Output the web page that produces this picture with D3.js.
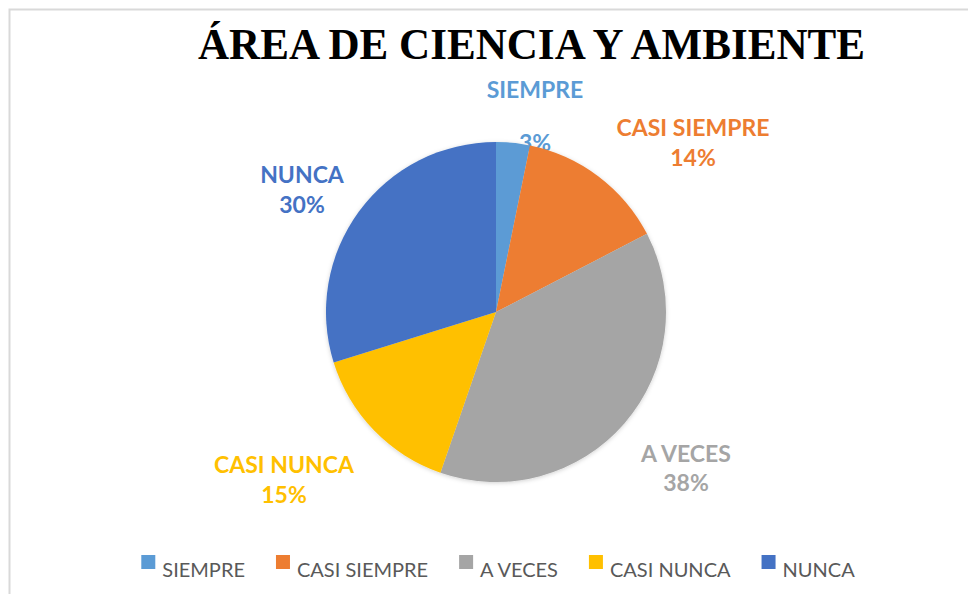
<!DOCTYPE html>
<html>
<head>
<meta charset="utf-8">
<script src="https://cdn.jsdelivr.net/npm/d3@7"></script>
<style>
  body { margin: 0; background: #fff; }
  svg { display: block; }
</style>
</head>
<body>
<div id="chart"></div>
<script>
// data (share of answers, %)
var categories = ["SIEMPRE", "CASI SIEMPRE", "A VECES", "CASI NUNCA", "NUNCA"];
var values = [3.2, 14.2, 37.9, 14.9, 29.8];
var colors = ["#5B9BD5", "#ED7D31", "#A5A5A5", "#FFC000", "#4472C4"];
var title = "ÁREA DE CIENCIA Y AMBIENTE";

var width = 968, height = 594;
var cx = 496, cy = 312, radius = 170;

// where each data label sits (centre x, baseline of the first line, gap to the % line)
var labelPos = [[535, 98, 53], [693, 136, 30], [686, 462, 29], [284, 473, 30], [302, 183, 30]];

var svg = d3.select("#chart").append("svg")
  .attr("width", width)
  .attr("height", height);

var defs = svg.append("defs");
var f = defs.append("filter").attr("id", "shadow")
  .attr("x", "-10%").attr("y", "-10%").attr("width", "120%").attr("height", "120%");
f.append("feDropShadow").attr("dx", 0).attr("dy", 1).attr("stdDeviation", 2)
  .attr("flood-color", "#000").attr("flood-opacity", 0.18);

// chart frame
svg.append("rect")
  .attr("x", 9.5).attr("y", 9.5)
  .attr("width", width).attr("height", height)
  .attr("fill", "none")
  .attr("stroke", "#d9d9d9")
  .attr("stroke-width", 2);

// title
svg.append("text")
  .attr("x", 198).attr("y", 59)
  .attr("textLength", 667)
  .attr("lengthAdjust", "spacingAndGlyphs")
  .style("font-family", "'Liberation Serif', 'Times New Roman', serif")
  .style("font-weight", "bold")
  .style("font-size", "45px")
  .attr("fill", "#000")
  .text(title);

var pie = d3.pie().sort(null).value(function(d) { return d; });
var arcs = pie(values);
var total = d3.sum(values);

// data labels (drawn first so the pie overlaps the "3%")
var lab = svg.append("g")
  .style("font-family", "Lato, 'Open Sans', sans-serif")
  .style("font-weight", "bold")
  .style("font-size", "23px")
  .attr("text-anchor", "middle");

arcs.forEach(function(a, i) {
  var p = labelPos[i];
  lab.append("text")
    .attr("x", p[0]).attr("y", p[1])
    .attr("fill", colors[i])
    .text(categories[i]);
  lab.append("text")
    .attr("x", p[0]).attr("y", p[1] + p[2])
    .attr("fill", colors[i])
    .text(Math.round(a.value / total * 100) + "%");
});

// pie
var arc = d3.arc().innerRadius(0).outerRadius(radius);
svg.append("g")
  .attr("transform", "translate(" + cx + "," + cy + ")")
  .attr("filter", "url(#shadow)")
  .selectAll("path")
  .data(arcs)
  .enter()
  .append("path")
    .attr("d", arc)
    .attr("fill", function(d, i) { return colors[i]; });

// legend, laid out from measured text widths and centred
var leg = svg.append("g")
  .style("font-family", "Lato, 'Open Sans', sans-serif")
  .style("font-size", "20px");

var items = leg.selectAll("g")
  .data(categories)
  .enter()
  .append("g");

items.append("rect")
  .attr("x", 0).attr("y", -22)
  .attr("width", 14).attr("height", 14)
  .attr("fill", function(d, i) { return colors[i]; });

items.append("text")
  .attr("x", 21).attr("y", 0)
  .attr("fill", "#595959")
  .text(function(d) { return d; });

var widths = [];
items.selectAll("text").each(function() { widths.push(21 + this.getComputedTextLength()); });
var gap = 31;
var totalW = d3.sum(widths) + gap * (widths.length - 1);
var x0 = 498 - totalW / 2;
items.attr("transform", function(d, i) {
  var x = x0 + d3.sum(widths.slice(0, i)) + gap * i;
  return "translate(" + x + ",577)";
});
</script>
</body>
</html>
